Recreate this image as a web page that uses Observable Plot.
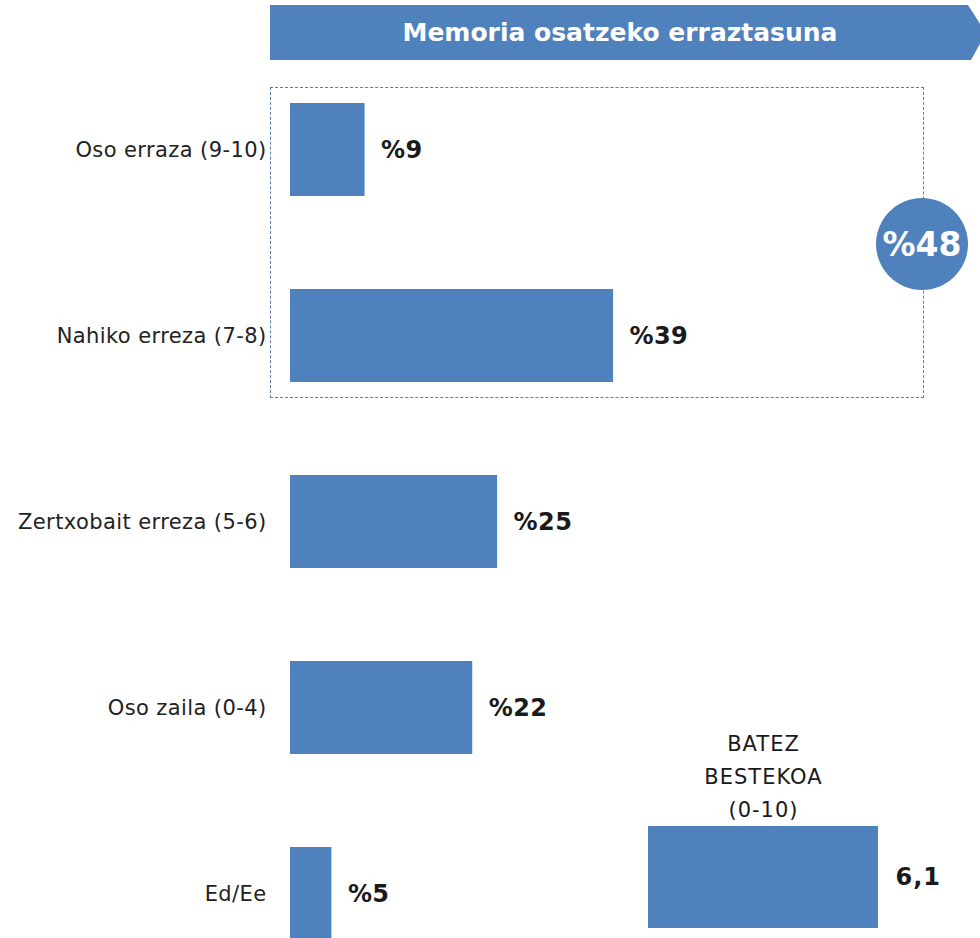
<!DOCTYPE html>
<html>
<head>
<meta charset="utf-8">
<script src="https://cdn.jsdelivr.net/npm/d3@7"></script>
<script src="https://cdn.jsdelivr.net/npm/@observablehq/plot@0.6"></script>
<style>
  html, body { margin: 0; padding: 0; background: #fff; }
  #wrap { position: relative; width: 980px; height: 938px; overflow: hidden; font-family: "DejaVu Sans", sans-serif; }
  #banner { position: absolute; left: 270px; top: 5px; width: 716px; height: 55px; background: #4f81bd;
    clip-path: polygon(0 0, 698px 0, 716px 28px, 701px 55px, 0 55px);
    color: #fff; font-weight: bold; font-size: 25px; display: flex; align-items: center; justify-content: center; box-sizing: border-box; padding-right: 16px; }
  #box { position: absolute; left: 270px; top: 87px; width: 652px; height: 309px; border: 1px dashed #5a7db0; box-sizing: content-box; }
  #badge { position: absolute; left: 876px; top: 198px; width: 92px; height: 92px; border-radius: 50%; background: #4f81bd;
    color: #fff; font-weight: bold; font-size: 33px; display: flex; align-items: center; justify-content: center; }
  .plot { position: absolute; }
</style>
</head>
<body>
<div id="wrap">
  <div id="banner"></div>
  <div id="box"></div>
  <div id="main" class="plot" style="left:0;top:0"></div>
  <div id="avg" class="plot" style="left:600px;top:720px"></div>
  <div id="badge"></div>
</div>
<script>
const title = "Memoria osatzeko erraztasuna";
const categories = ["Oso erraza (9-10)", "Nahiko erreza (7-8)", "Zertxobait erreza (5-6)", "Oso zaila (0-4)", "Ed/Ee"];
const values = [9, 39, 25, 22, 5];
const highlighted = ["Oso erraza (9-10)", "Nahiko erreza (7-8)"];
const averageLabel = "BATEZ\nBESTEKOA\n(0-10)";
const averageValue = 6.1;

const data = categories.map((c, i) => ({cat: c, value: values[i]}));
const blue = "#4f81bd";

document.getElementById("banner").textContent = title;
document.getElementById("badge").textContent = "%" + d3.sum(data.filter(d => highlighted.includes(d.cat)), d => d.value);

const main = Plot.plot({
  width: 980,
  height: 938,
  marginLeft: 290,
  marginRight: 0,
  marginTop: 0,
  marginBottom: 0,
  style: {fontFamily: "DejaVu Sans, sans-serif", fontSize: "21px", color: "#222", background: "transparent", overflow: "hidden", letterSpacing: "0.4px"},
  x: {domain: [0, 83.3], axis: null},
  y: {domain: categories, range: [10, 1033], paddingInner: 0.5, paddingOuter: 0.5, label: null},
  marks: [
    Plot.barX(data, {x: "value", y: "cat", fill: blue}),
    Plot.text(data, {x: "value", y: "cat", text: d => "%" + d.value, dx: 16, textAnchor: "start", fontWeight: "bold", fontSize: 24, fill: "#1a1a1a"}),
    Plot.axisY({tickSize: 0, tickPadding: 24, fontSize: 21, label: null})
  ]
});
document.getElementById("main").appendChild(main);

const avgData = [{cat: "avg", value: averageValue, label: averageLabel}];
const avg = Plot.plot({
  width: 380,
  height: 218,
  marginLeft: 48,
  marginRight: 0,
  marginTop: 0,
  marginBottom: 0,
  style: {fontFamily: "DejaVu Sans, sans-serif", fontSize: "21px", color: "#222", background: "transparent", overflow: "visible", letterSpacing: "1px"},
  x: {domain: [0, 332 / 37.7], axis: null},
  y: {domain: ["avg"], range: [106, 208], padding: 0, axis: null},
  marks: [
    Plot.barX(avgData, {x: "value", y: "cat", fill: blue}),
    Plot.text(avgData, {x: d => d.value / 2, y: "cat", text: "label", dy: -104, lineHeight: 1.57, fontSize: 21, fill: "#1a1a1a"}),
    Plot.text(avgData, {x: "value", y: "cat", text: d => String(d.value).replace(".", ","), dx: 17, textAnchor: "start", fontWeight: "bold", fontSize: 24, fill: "#1a1a1a"})
  ]
});
document.getElementById("avg").appendChild(avg);
</script>
</body>
</html>
